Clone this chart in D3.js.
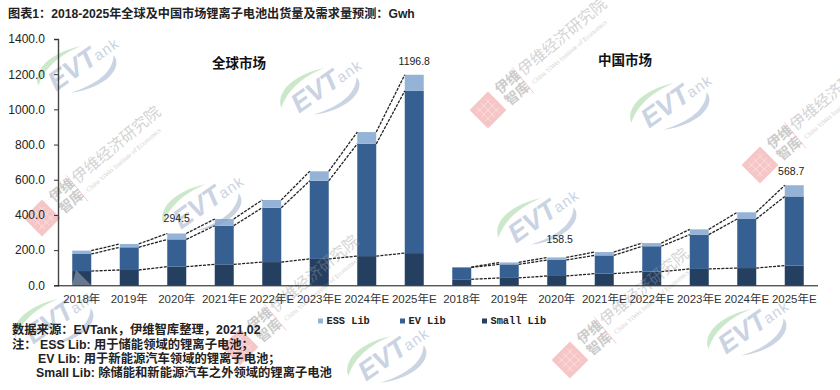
<!doctype html>
<html lang="en">
<head>
    <meta charset="utf-8">
    <title>全球及中国市场锂离子电池出货量</title>
    <script src="https://d3js.org/d3.v7.min.js"></script>
    <style>
        html, body { margin: 0; padding: 0; background: #fff; }
        svg { display: block; }
        text { font-family: "Liberation Sans", "Noto Sans CJK SC", sans-serif; }
    </style>
</head>
<body>
    <script>
        // Data (Gwh)
        const years = ["2018年", "2019年", "2020年", "2021年E", "2022年E", "2023年E", "2024年E", "2025年E"];
        const seriesNames = ["Small Lib", "EV Lib", "ESS Lib"];
        const seriesColors = ["#243f60", "#366092", "#95b3d7"];
        const yTicks = [0, 200, 400, 600, 800, 1000, 1200, 1400];

        const globalSmall = [81, 87, 106, 119, 132, 150, 166, 183];
        const globalEv    = [97, 129, 155, 220, 309, 444, 638, 922];
        const globalEss   = [19, 19, 33.5, 38, 44, 54, 67, 91.8];

        const chinaSmall = [34, 42, 53, 66, 78, 93, 98, 112];
        const chinaEv    = [68, 77, 91, 104, 144, 195, 279, 393];
        const chinaEss   = [1.5, 11, 14.5, 19, 18, 30, 38, 63.7];

        const totalLabels = [
            { i: 2,  text: "294.5",  dx: 0,  dy: -14 },
            { i: 7,  text: "1196.8", dx: 0,  dy: -13 },
            { i: 10, text: "158.5",  dx: 3,  dy: -17 },
            { i: 15, text: "568.7",  dx: -3, dy: -13 }
        ];

        const width = 840, height = 390;
        const svg = d3.select("body").append("svg").attr("width", width).attr("height", height);

        // 16 slots, global market then China, no gap between the two
        const rows = years.concat(years).map(function(year, i) {
            const g = i < 8;
            const k = g ? i : i - 8;
            return {
                i: i, year: year,
                "Small Lib": g ? globalSmall[k] : chinaSmall[k],
                "EV Lib":    g ? globalEv[k]    : chinaEv[k],
                "ESS Lib":   g ? globalEss[k]   : chinaEss[k]
            };
        });

        const x = d3.scaleBand().domain(d3.range(16)).range([58, 818]).paddingInner(0.6).paddingOuter(0.3);
        const y = d3.scaleLinear().domain([0, 1400]).range([285.3, 39]);
        const color = d3.scaleOrdinal().domain(seriesNames).range(seriesColors);
        const stacked = d3.stack().keys(seriesNames)(rows);

        // Bars
        svg.append("g").selectAll("g")
            .data(stacked)
            .enter().append("g")
            .attr("fill", function(s) { return color(s.key); })
            .selectAll("rect")
            .data(function(s) { return s; })
            .enter().append("rect")
            .attr("x", function(d) { return x(d.data.i); })
            .attr("width", x.bandwidth())
            .attr("y", function(d) { return y(d[1]); })
            .attr("height", function(d) { return y(d[0]) - y(d[1]); });

        // Series lines between neighbouring bars, not across the two markets
        stacked.forEach(function(s) {
            svg.append("g").selectAll("line")
                .data(s.filter(function(d) { return d.data.i !== 7 && d.data.i !== 15; }))
                .enter().append("line")
                .attr("x1", function(d) { return x(d.data.i) + x.bandwidth(); })
                .attr("x2", function(d) { return x(d.data.i + 1); })
                .attr("y1", function(d) { return y(d[1]); })
                .attr("y2", function(d) { return y(s[d.data.i + 1][1]); })
                .attr("stroke", "#222")
                .attr("stroke-width", 1.3)
                .attr("stroke-dasharray", "3,1.2");
        });

        // Watermarks
        const logoSpots = [[75, 70], [318, 92], [668, 107], [200, 208], [535, 222], [52, 323], [385, 360], [745, 333]];
        const stampSpots = [[42, 218], [488, 110], [760, 165], [240, 347], [570, 360]];

        const marks = svg.append("g").attr("pointer-events", "none");

        marks.append("path")
            .attr("d", "M76,270L91,285L72,285Z")
            .attr("fill", "#fff").attr("opacity", 0.3);

        logoSpots.forEach(function(p) {
            const g = marks.append("g").attr("transform", "translate(" + p[0] + "," + p[1] + ") rotate(-35)");
            g.append("path")
                .attr("d", "M-39,-8 C-36,-22 -14,-30 19,-16 C-6,-22 -26,-18 -39,-8 Z")
                .attr("fill", "#8fcb8a").attr("opacity", 0.45);
            g.append("path")
                .attr("d", "M40,10 C42,24 18,34 -17,16 C8,24 30,24 40,10 Z")
                .attr("fill", "#8aa0c0").attr("opacity", 0.45);
            g.append("text").text("EVT")
                .attr("x", -28).attr("y", 7)
                .attr("font-size", 27).attr("font-weight", "bold").attr("font-style", "italic")
                .attr("fill", "#8aa0c0").attr("opacity", 0.45);
            g.append("text").text("ank")
                .attr("x", 24).attr("y", 6)
                .attr("font-size", 15).attr("letter-spacing", 1)
                .attr("fill", "#8aa0c0").attr("opacity", 0.45);
        });

        stampSpots.forEach(function(p) {
            const g = marks.append("g").attr("transform", "translate(" + p[0] + "," + p[1] + ") rotate(-40)");
            const seal = g.append("g").attr("transform", "rotate(-5)");
            seal.append("rect")
                .attr("x", -13).attr("y", -13).attr("width", 26).attr("height", 26)
                .attr("fill", "#ea8080").attr("opacity", 0.45);
            [-6, 0, 6].forEach(function(o) {
                seal.append("line").attr("x1", o).attr("x2", o).attr("y1", -10).attr("y2", 10)
                    .attr("stroke", "#fff").attr("stroke-width", 0.8).attr("opacity", 0.5);
                seal.append("line").attr("x1", -10).attr("x2", 10).attr("y1", o).attr("y2", o)
                    .attr("stroke", "#fff").attr("stroke-width", 0.8).attr("opacity", 0.5);
            });
            g.append("text").text("伊维")
                .attr("x", 33).attr("y", -4).attr("text-anchor", "middle")
                .attr("font-size", 14).attr("font-weight", "bold")
                .attr("fill", "#999").attr("opacity", 0.5);
            g.append("text").text("智库")
                .attr("x", 33).attr("y", 11).attr("text-anchor", "middle")
                .attr("font-size", 14).attr("font-weight", "bold")
                .attr("fill", "#999").attr("opacity", 0.5);
            g.append("line")
                .attr("x1", 46).attr("x2", 46).attr("y1", -17).attr("y2", 17)
                .attr("stroke", "#f2b8b8").attr("stroke-width", 0.7);
            g.append("text").text("伊维经济研究院")
                .attr("x", 49).attr("y", -3)
                .attr("font-size", 15.7)
                .attr("style", "font-family:'Noto Sans CJK SC'")
                .attr("fill", "#999").attr("opacity", 0.42);
            g.append("text").text("China YiWei Institute of Economics")
                .attr("x", 52).attr("y", 10)
                .attr("font-size", 6.6)
                .attr("style", "font-family:'Liberation Serif'")
                .attr("fill", "#999").attr("opacity", 0.45);
        });

        // Y axis
        const yAxis = svg.append("g")
            .attr("transform", "translate(58,0)")
            .call(d3.axisLeft(y).tickValues(yTicks).tickSize(4).tickPadding(9).tickFormat(d3.format(".1f")));
        yAxis.select(".domain").attr("stroke", "#444").attr("stroke-width", 1.4);
        yAxis.selectAll(".tick line").attr("stroke", "#333");
        yAxis.selectAll("text").attr("font-size", 12).attr("fill", "#222")
            .style("font-family", "'Liberation Sans'");

        // X axis
        const xAxis = svg.append("g")
            .attr("transform", "translate(0,285.3)")
            .call(d3.axisBottom(x).tickSize(0).tickPadding(10).tickFormat(function(i) { return rows[i].year; }));
        xAxis.select(".domain").attr("stroke", "#111").attr("d", "M58,0.5H818");
        xAxis.selectAll("text").attr("font-size", 11.5).attr("fill", "#333")
            .style("font-family", "'Liberation Sans','Noto Sans CJK SC'");

        // Value labels
        svg.append("g").selectAll("text")
            .data(totalLabels)
            .enter().append("text")
            .attr("x", function(d) { return x(d.i) + x.bandwidth() / 2 + d.dx; })
            .attr("y", function(d) { return y(stacked[2][d.i][1]) + d.dy; })
            .attr("text-anchor", "middle")
            .attr("dominant-baseline", "middle")
            .attr("font-size", 10.5)
            .attr("fill", "#222")
            .text(function(d) { return d.text; });

        // Titles
        svg.append("text").text("图表1：2018-2025年全球及中国市场锂离子电池出货量及需求量预测：Gwh")
            .attr("x", 8).attr("y", 18)
            .attr("font-size", 12.15).attr("font-weight", "bold").attr("fill", "#222");
        svg.append("text").text("全球市场")
            .attr("x", 239).attr("y", 68).attr("text-anchor", "middle")
            .attr("font-size", 13.5).attr("font-weight", "bold").attr("fill", "#111");
        svg.append("text").text("中国市场")
            .attr("x", 625).attr("y", 65).attr("text-anchor", "middle")
            .attr("font-size", 13.5).attr("font-weight", "bold").attr("fill", "#111");

        // Legend, drawn left to right from the top series down
        const legendX = d3.scalePoint().domain(seriesNames.slice().reverse()).range([318, 482]);
        const legend = svg.append("g").selectAll("g")
            .data(seriesNames.slice().reverse())
            .enter().append("g")
            .attr("transform", function(d) { return "translate(" + legendX(d) + ",321)"; });
        legend.append("rect")
            .attr("x", 0).attr("y", -2.5).attr("width", 5).attr("height", 5)
            .attr("fill", function(d) { return color(d); });
        legend.append("text")
            .attr("x", 8.5).attr("dominant-baseline", "middle")
            .attr("font-size", 10.3).attr("font-weight", "bold").attr("fill", "#222")
            .style("font-family", "'Liberation Mono'")
            .text(function(d) { return d; });

        // Source notes
        const notes = [
            { x: 12, y: 334, t: "数据来源：EVTank，伊维智库整理，2021,02" },
            { x: 12, y: 349, t: "注：" },
            { x: 40, y: 349, t: "ESS Lib: 用于储能领域的锂离子电池；" },
            { x: 38, y: 363, t: "EV Lib: 用于新能源汽车领域的锂离子电池；" },
            { x: 36, y: 377, t: "Small Lib: 除储能和新能源汽车之外领域的锂离子电池" }
        ];
        svg.append("g").selectAll("text")
            .data(notes)
            .enter().append("text")
            .attr("x", function(d) { return d.x; })
            .attr("y", function(d) { return d.y; })
            .attr("font-size", 12.3)
            .attr("font-weight", "bold")
            .attr("fill", "#222")
            .text(function(d) { return d.t; });
    </script>
</body>
</html>
